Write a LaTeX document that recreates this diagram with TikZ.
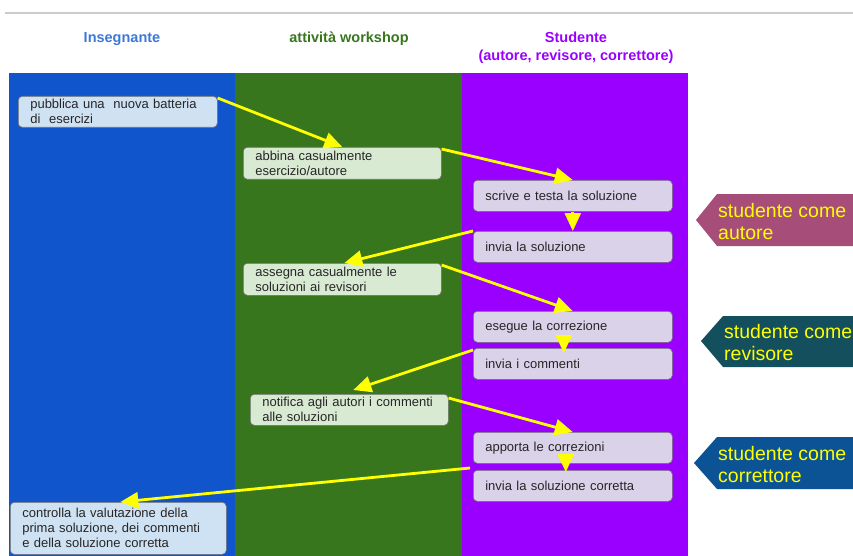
\documentclass[tikz,border=0pt]{standalone}
\usepackage{fontspec}
\setmainfont{Liberation Sans}
\usetikzlibrary{arrows.meta,calc}
\definecolor{colT}{HTML}{1155CC}
\definecolor{colW}{HTML}{38761D}
\definecolor{colS}{HTML}{9900FF}
\definecolor{fillT}{HTML}{CFE2F3}
\definecolor{fillW}{HTML}{D9EAD3}
\definecolor{fillS}{HTML}{D9D2E9}
\definecolor{hdrT}{HTML}{3C78D8}
\definecolor{tagA}{HTML}{A64D79}
\definecolor{tagR}{HTML}{134F5C}
\definecolor{tagC}{HTML}{0B5394}
\definecolor{yel}{HTML}{FFFF00}
\hyphenpenalty=10000
\begin{document}
\begin{tikzpicture}[x=1pt,y=-1pt,
  box/.style={draw=black!55, line width=0.6pt, rounded corners=4pt,
    minimum height=31pt, inner xsep=12pt, inner ysep=0pt, text width=175pt,
    align=left, anchor=north west, text=black!85,
    font=\fontsize{13}{15}\selectfont},
  tbox/.style={box, fill=fillT},
  wbox/.style={box, fill=fillW},
  sbox/.style={box, fill=fillS},
  hdr/.style={font=\fontsize{14.5}{17.5}\selectfont\bfseries, align=center},
  tag/.style={text=yel, align=left, anchor=west, inner sep=0pt,
    font=\fontsize{19.5}{22}\selectfont},
  arr/.style={draw=yel, line width=2.8pt, -{Triangle[length=18pt,width=16pt]}}]
\useasboundingbox (0,0) rectangle (853,556);
% top rule
\draw[black!20, line width=1.5pt] (5,13) -- (853,13);
% headers
\node[hdr, text=hdrT] (hT) at (122,39) {Insegnante};
\node[hdr, text=colW] (hW) at (349,39) {attività workshop};
\node[hdr, text=colS] (hS) at (576,48) {Studente\\(autore, revisore, correttore)};
% columns
\fill[colT] (9,73) rectangle (235,556);
\fill[colW] (235,73) rectangle (462,556);
\fill[colS] (462,73) rectangle (688,556);
% boxes
\node[tbox] (b1) at (18,96) {pubblica una\ \ nuova batteria\\di\ \ esercizi};
\node[wbox, text width=174pt, minimum height=32pt] (b2) at (243,147) {abbina casualmente\\esercizio/autore};
\node[sbox] (b3) at (473,180) {scrive e testa la soluzione};
\node[sbox] (b4) at (473,231) {invia la soluzione};
\node[wbox, text width=174pt, minimum height=32pt] (b5) at (243,263) {assegna casualmente le\\soluzioni ai revisori};
\node[sbox] (b6) at (473,311) {esegue la correzione};
\node[sbox] (b7) at (473,348) {invia i commenti};
\node[wbox, text width=174pt] (b8) at (250,394) {notifica agli autori i commenti\\alle soluzioni};
\node[sbox] (b9) at (473,432) {apporta le correzioni};
\node[sbox] (b10) at (473,470) {invia la soluzione corretta};
\node[tbox, text width=192pt, minimum height=52pt] (b11) at (10,502) {controlla la valutazione della\\prima soluzione, dei commenti\\e della soluzione corretta};
% arrows
\draw[arr] ([yshift=-2pt]b1.north east) -- (b2.north);
\draw[arr] ([yshift=-2pt]b2.north east) -- (b3.north);
\draw[arr] (b3.south) -- (b4.north);
\draw[arr] (b4.north west) -- ([xshift=2pt]b5.north);
\draw[arr] ([yshift=-2pt]b5.north east) -- (b6.north);
\draw[arr] ([xshift=-9pt]b6.south) -- ([xshift=-9pt,yshift=-5pt]b7.north);
\draw[arr] ([yshift=-2pt]b7.north west) -- ([xshift=4pt,yshift=4pt]b8.north);
\draw[arr] ([yshift=-4pt]b8.north east) -- (b9.north);
\draw[arr] ([xshift=-7pt]b9.south) -- ([xshift=-7pt,yshift=-2pt]b10.north);
\draw[arr] ([xshift=-3pt,yshift=2pt]b10.north west) -- ([xshift=2pt]b11.north);
% role tags
\fill[tagA] (696,220) -- (717,194) -- (853,194) -- (853,246) -- (717,246) -- cycle;
\node[tag] (tA) at (718,221.5) {studente come\\autore};
\fill[tagR] (701,341) -- (723,316) -- (853,316) -- (853,367) -- (723,367) -- cycle;
\node[tag] (tR) at (724,342.5) {studente come\\revisore};
\fill[tagC] (694,463) -- (717,437) -- (853,437) -- (853,489) -- (717,489) -- cycle;
\node[tag] (tC) at (718,464.5) {studente come\\correttore};
\end{tikzpicture}
\end{document}
